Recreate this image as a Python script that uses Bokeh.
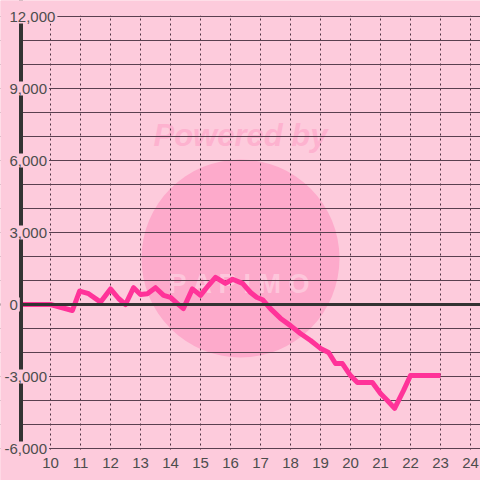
from bokeh.plotting import figure
from bokeh.models import FixedTicker, Span, Label, Range1d, BoxAnnotation
from bokeh.core.properties import value
from bokeh.embed import file_html
from bokeh.resources import INLINE

# ---- data ----
times = [9.0, 10.0, 10.73, 10.97, 11.27, 11.67, 12.0, 12.27, 12.5, 12.77, 13.0,
         13.23, 13.5, 13.77, 14.0, 14.23, 14.43, 14.73, 15.0, 15.27, 15.5, 15.83,
         16.07, 16.4, 16.67, 16.87, 17.07, 17.33, 17.67, 18.0, 18.33, 18.67, 19.0,
         19.27, 19.5, 19.73, 20.0, 20.23, 20.73, 21.0, 21.23, 21.47, 21.77, 22.0, 23.0]
balls = [0, 0, -250, 560, 450, 100, 650, 250, 0, 700, 420,
         450, 700, 380, 300, 40, -170, 650, 380, 800, 1130, 880,
         1050, 880, 500, 300, 200, -170, -580, -880, -1210, -1500, -1830,
         -2000, -2460, -2460, -2960, -3250, -3250, -3710, -4000, -4330, -3580, -2960, -2960]

x_ticks = list(range(10, 25))
x_tick_text = [str(h) for h in x_ticks]
y_grid = list(range(-6000, 12001, 1000))
y_label_vals = [12000, 9000, 6000, 3000, 0, -3000, -6000]
y_label_text = ["12,000", "9,000", "6,000", "3,000", "0", "-3,000", "-6,000"]

X_MIN, Y_MIN, Y_MAX = 9, -6000, 12000

BG = "#fdcbdc"
TXT = "#4d4d4d"
FONT_SIZE = "15px"

# geometry (pixels)
W = H = 480
PX_PER_HOUR = 30.0
PX_PER_UNIT = 24.0 / 1000
AXIS_PX = 20          # axis position from canvas left
TOP_PX = 16           # Y_MAX position from canvas top

x0 = X_MIN - AXIS_PX / PX_PER_HOUR
x1 = x0 + W / PX_PER_HOUR
y1 = Y_MAX + TOP_PX / PX_PER_UNIT
y0 = y1 - H / PX_PER_UNIT
px_x = 1 / PX_PER_HOUR
px_y = 1 / PX_PER_UNIT

p = figure(width=W, height=H, output_backend="svg", toolbar_location=None,
           x_range=Range1d(x0, x1), y_range=Range1d(y0, y1),
           x_axis_location=None, y_axis_location=None,
           min_border=0)
p.background_fill_color = BG
p.border_fill_color = BG
p.outline_line_color = None

# watermark
cx = X_MIN + 220 * px_x
p.scatter(x=[cx], y=[46 * px_y], size=198, marker="circle", fill_color="#fdaacb",
          line_color=None, level="image")
p.text(x=[cx], y=[169 * px_y], text=["Powered by"], text_align="center",
       text_baseline="middle", text_font=value("Liberation Sans"),
       text_font_style="bold italic", text_font_size="31px",
       text_color="#fdb2cf", level="image")
p.text(x=[cx], y=[21 * px_y], text=["P A P I M O"], text_align="center",
       text_baseline="middle", text_font=value("Liberation Sans"),
       text_font_style="bold", text_font_size="27px",
       text_color="#fdc6db", level="image")

# grids
p.ygrid.ticker = FixedTicker(ticks=y_grid)
p.ygrid.grid_line_color = "#5a4050"
p.ygrid.grid_line_width = 1
p.xgrid.ticker = FixedTicker(ticks=x_ticks)
p.xgrid.grid_line_color = "#4a3040"
p.xgrid.grid_line_dash = "2 3"
p.xgrid.grid_line_width = 1

p.line(times, balls, line_color="#ff3399", line_width=5, line_join="round")

axis_x = X_MIN + 0.5 * px_x
p.add_layout(Span(location=0, dimension="width", line_color="#333333", line_width=3))
p.add_layout(Span(location=axis_x, dimension="height", line_color="#333333", line_width=4))
# masks outside the plotting area
p.add_layout(BoxAnnotation(right=axis_x - 2 * px_x, fill_color=BG, fill_alpha=1, line_color=None))
p.add_layout(BoxAnnotation(bottom=Y_MAX + 1 * px_y, fill_color=BG, fill_alpha=1, line_color=None))
p.add_layout(BoxAnnotation(top=Y_MIN - 1 * px_y, fill_color=BG, fill_alpha=1, line_color=None))

# x tick labels
p.text(x=x_ticks, y=[Y_MIN - 14 * px_y] * len(x_ticks), text=x_tick_text,
       text_align="center", text_baseline="middle", text_font=value("Liberation Sans"),
       text_font_size=FONT_SIZE, text_color=TXT, level="overlay")

# y tick labels (digits left-aligned, minus sign hanging to the left)
for v, t in zip(y_label_vals, y_label_text):
    lx = x0 + (2 if t.startswith("-") else 7) * px_x
    p.add_layout(Label(x=lx, y=v, text=t, text_align="left", text_baseline="middle",
                       text_font="Liberation Sans", text_font_size=FONT_SIZE,
                       text_color=TXT, background_fill_color=BG, padding=2,
                       level="overlay"))

open("out.html", "w").write(file_html(p, INLINE))
